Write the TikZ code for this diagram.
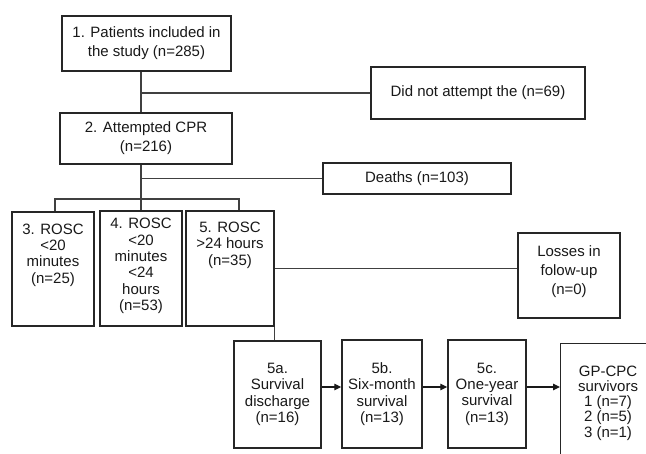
\documentclass[tikz,border=0pt]{standalone}
\usepackage{fontspec}
\setmainfont{Liberation Sans}
\usetikzlibrary{arrows.meta}
\begin{document}
\begin{tikzpicture}[x=1pt,y=-1pt,
  box/.style={draw=black!85,line width=1.4pt,inner sep=0pt,align=center,text=black!90},
  txt/.style={inner sep=0pt,align=center,text=black!90},
  wire/.style={draw=black!75,line width=1.2pt},
  arr/.style={draw=black!90,line width=1.2pt,-{Triangle[length=7pt,width=6.5pt]}},
  fA/.style={font=\fontsize{15}{19}\selectfont},
  fB/.style={font=\fontsize{15}{16.4}\selectfont},
  fC/.style={font=\fontsize{15}{15.2}\selectfont}]
\useasboundingbox (0,0) rectangle (646,454);
\fill[white] (0,0) rectangle (646,454);

\node[box,fA,minimum width=169pt,minimum height=55pt] (b1) at (146.5,43.5) {1. Patients included in\\the study (n=285)};
\node[box,fA,minimum width=214pt,minimum height=52pt] (dna) at (478,93) {Did not attempt the (n=69)};
\node[box,fA,minimum width=172pt,minimum height=51pt] (b2) at (146,138.5) {2. Attempted CPR\\(n=216)};
\node[box,fA,minimum width=188pt,minimum height=31pt] (deaths) at (417,178.5) {Deaths (n=103)};

\node[box,minimum width=82pt,minimum height=114pt] (b3) at (53,269) {};
\node[box,minimum width=82pt,minimum height=115pt] (b4) at (141,268.5) {};
\node[box,minimum width=88pt,minimum height=115pt] (b5) at (230,268.5) {};
\node[txt,fB] (b3t) at (53,255) {3. ROSC\\<20\\minutes\\(n=25)};
\node[txt,fB] (b4t) at (141,266) {4. ROSC\\<20\\minutes\\<24\\hours\\(n=53)};
\node[txt,fB] (b5t) at (230,245) {5. ROSC\\>24 hours\\(n=35)};

\node[box,minimum width=102pt,minimum height=85pt] (loss) at (569,275.5) {};
\node[txt,fA] (losst) at (569,271.5) {Losses in\\folow-up\\(n=0)};

\node[box,fB,minimum width=87pt,minimum height=107pt] (b5a) at (277.5,394.5) {5a.\\Survival\\discharge\\(n=16)};
\node[box,fB,minimum width=80pt,minimum height=108pt] (b5b) at (382,394) {5b.\\Six-month\\survival\\(n=13)};
\node[box,fB,minimum width=78pt,minimum height=108pt] (b5c) at (487,394) {5c.\\One-year\\survival\\(n=13)};

\begin{scope}
\clip (0,0) rectangle (646,454);
\node[box,anchor=north west,minimum width=96pt,minimum height=130pt] (gp) at (560,343) {};
\end{scope}
\node[txt,fC] (gpt) at (608,403) {GP-CPC\\survivors\\1 (n=7)\\2 (n=5)\\3 (n=1)};

% connectors
\coordinate (j3) at (55,199);
\coordinate (j5) at (239,199);
\coordinate (ar) at (0,387);
\draw[wire] (b1.south -| b4.north) -- (b2.north -| b4.north);
\draw[wire] (b4.north |- dna.west) -- (dna.west);
\draw[wire] (b2.south -| b4.north) -- (b4.north);
\draw[wire] (b4.north |- deaths.west) -- (deaths.west);
\draw[wire] (j3 |- b3.north) -- (j3) -- (j5) -- (j5 |- b5.north);
\draw[wire] (b5.east) -- (b5.east -| loss.west);
\draw[wire] (b5.south east) -- (b5.south east |- b5a.north);
\draw[arr] (b5a.east |- ar) -- (b5b.west |- ar);
\draw[arr] (b5b.east |- ar) -- (b5c.west |- ar);
\draw[arr] (b5c.east |- ar) -- (gp.west |- ar);
\end{tikzpicture}
\end{document}
